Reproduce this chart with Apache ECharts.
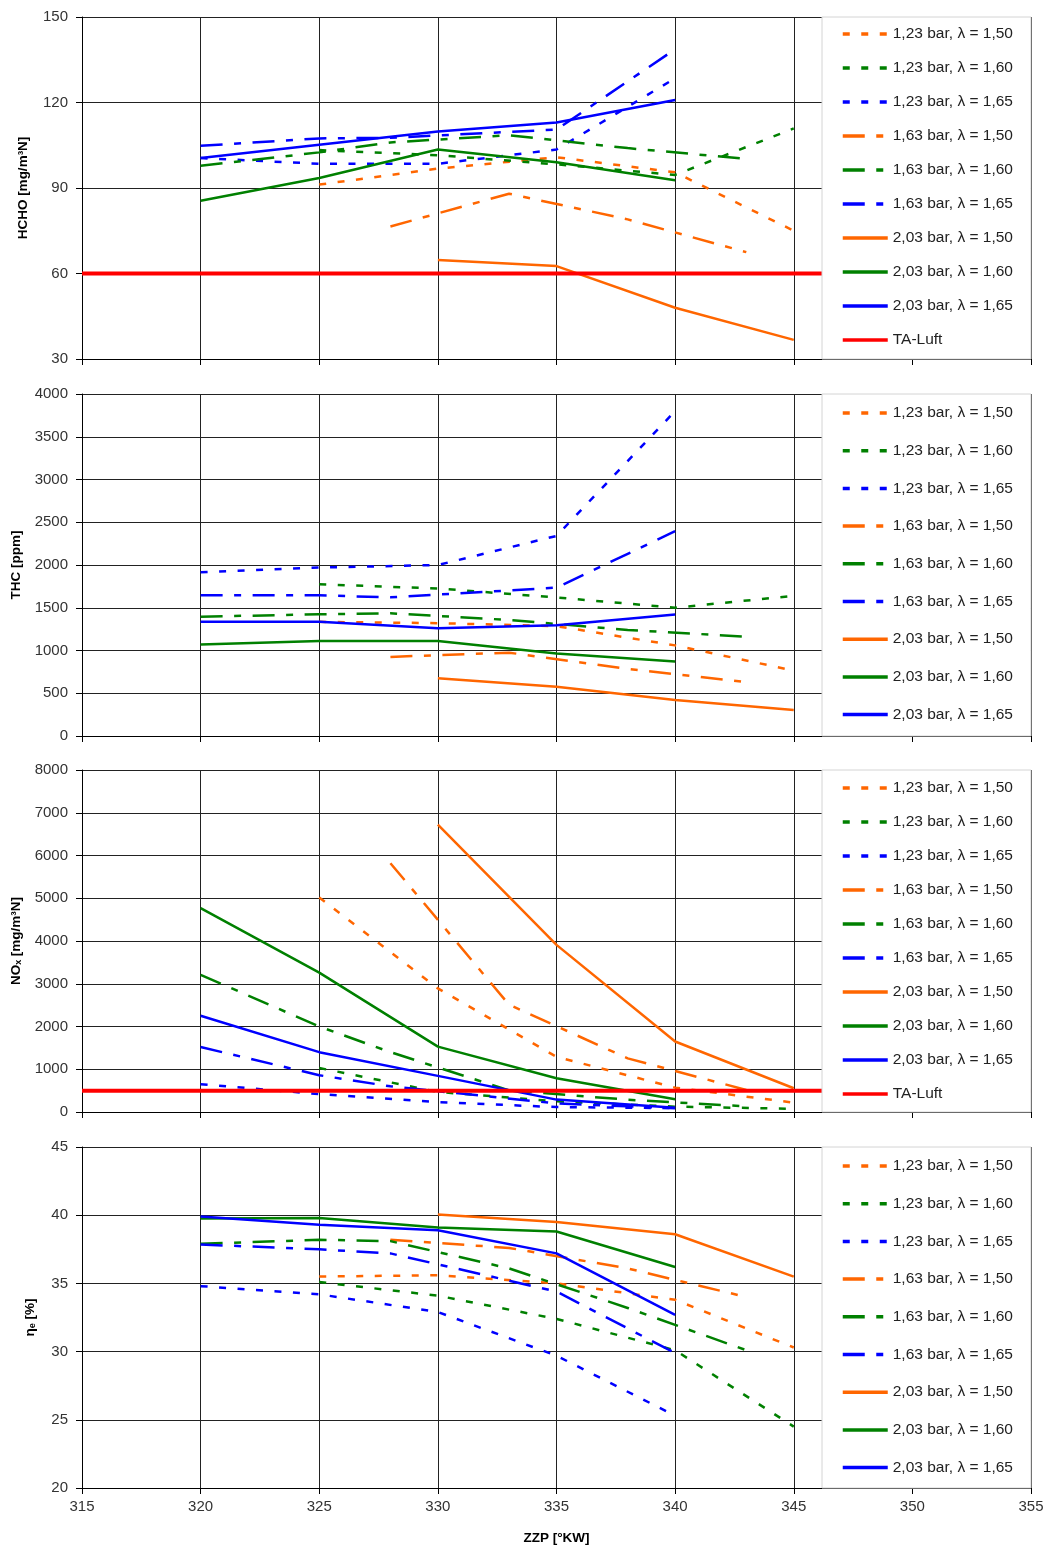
<!DOCTYPE html>
<html>
<head>
<meta charset="utf-8">
<title>ZZP Variation</title>
<script src="https://cdn.jsdelivr.net/npm/echarts@6/dist/echarts.min.js"></script>
<style>
  html, body { margin: 0; padding: 0; background: #fff; }
  #chart { width: 1047px; height: 1546px; }
</style>
</head>
<body>
<div id="chart"></div>
<script>
// ZZP [°KW] der Messpunkte je Reihe
var zzp123_150 = [325, 330, 335, 340, 345];
var zzp123_160 = [325, 330, 335, 340, 345];
var zzp123_165 = [320, 325, 330, 335, 340];
var zzp163_150 = [328, 333, 338, 343];
var zzp163_160 = [320, 325, 328, 333, 338, 343];
var zzp163_165 = [320, 325, 328, 335, 340];
var zzp203_150 = [330, 335, 340, 345];
var zzp203_160 = [320, 325, 330, 335, 340];
var zzp203_165 = [320, 325, 330, 335, 340];

// HCHO [mg/m3N]
var hcho123_150 = [91.2, 96.8, 100.8, 95.5, 75];
var hcho123_160 = [103.3, 101.5, 98.3, 94.6, 110.9];
var hcho123_165 = [100.5, 98.5, 98.5, 103.5, 128.5];
var hcho163_150 = [76.5, 88, 79, 67.5];
var hcho163_160 = [97.8, 102.5, 106, 108.5, 104, 100.2];
var hcho163_165 = [104.8, 107.4, 107.6, 110.5, 138.7];
var hcho203_150 = [64.7, 62.6, 48, 36.7];
var hcho203_160 = [85.5, 93.5, 103.5, 99, 92.7];
var hcho203_165 = [100.5, 105.2, 109.8, 113, 120.9];

// THC [ppm]
var thc123_150 = [1335, 1320, 1285, 1060, 765];
var thc123_160 = [1775, 1725, 1620, 1500, 1640];
var thc123_165 = [1915, 1970, 2000, 2340, 3800];
var thc163_150 = [925, 975, 785, 630];
var thc163_160 = [1396, 1423, 1435, 1357, 1240, 1162];
var thc163_165 = [1645, 1645, 1622, 1735, 2395];
var thc203_150 = [675, 575, 420, 305];
var thc203_160 = [1070, 1110, 1110, 965, 870];
var thc203_165 = [1335, 1335, 1260, 1295, 1420];

// NOx [mg/m3N]
var nox123_150 = [5020, 2890, 1290, 570, 220];
var nox123_160 = [1030, 470, 250, 125, 75];
var nox123_165 = [650, 420, 230, 115, 90];
var nox163_150 = [5820, 2510, 1255, 515];
var nox163_160 = [3210, 2000, 1400, 505, 288, 131];
var nox163_165 = [1520, 860, 600, 200, 90];
var nox203_150 = [6720, 3910, 1650, 555];
var nox203_160 = [4770, 3260, 1530, 790, 300];
var nox203_165 = [2250, 1400, 845, 290, 100];

// eta_e [%]
var eta123_150 = [35.5, 35.6, 35.0, 33.8, 30.3];
var eta123_160 = [35.1, 34.1, 32.4, 30.1, 24.5];
var eta123_165 = [34.8, 34.2, 32.9, 29.7, 25.3];
var eta163_150 = [38.2, 37.6, 36.1, 34.0];
var eta163_160 = [37.9, 38.2, 38.1, 36.1, 33.2, 30.1];
var eta163_165 = [37.85, 37.5, 37.2, 34.4, 29.9];
var eta203_150 = [40.05, 39.5, 38.6, 35.5];
var eta203_160 = [39.75, 39.8, 39.1, 38.8, 36.2];
var eta203_165 = [39.9, 39.3, 38.9, 37.2, 32.7];

// Grenzwerte TA-Luft
var taLuftZzp = [315, 355];
var taLuftHcho = [60, 60];
var taLuftNox = [500, 500];

// Achsen: [min, max, interval]
var xRange = [315, 355, 5];
var hchoRange = [30, 150, 30];
var thcRange = [0, 4000, 500];
var noxRange = [0, 8000, 1000];
var etaRange = [20, 45, 5];

var seriesNames = [
  '1,23 bar, λ = 1,50', '1,23 bar, λ = 1,60', '1,23 bar, λ = 1,65',
  '1,63 bar, λ = 1,50', '1,63 bar, λ = 1,60', '1,63 bar, λ = 1,65',
  '2,03 bar, λ = 1,50', '2,03 bar, λ = 1,60', '2,03 bar, λ = 1,65'
];
var taName = 'TA-Luft';

var FONT = 'Liberation Sans, Arial, sans-serif';
var ORANGE = '#FF6600', GREEN = '#008000', BLUE = '#0000FF';
var DOT = [7, 11.5];
var DASHDOT = [22, 11.5, 7, 11.5];

var styles = [
  { color: ORANGE, type: DOT }, { color: GREEN, type: DOT }, { color: BLUE, type: DOT },
  { color: ORANGE, type: DASHDOT }, { color: GREEN, type: DASHDOT }, { color: BLUE, type: DASHDOT },
  { color: ORANGE, type: 'solid' }, { color: GREEN, type: 'solid' }, { color: BLUE, type: 'solid' }
];
var zzpSets = [zzp123_150, zzp123_160, zzp123_165, zzp163_150, zzp163_160, zzp163_165,
               zzp203_150, zzp203_160, zzp203_165];

// legendPad: Innenabstand des Legendenkastens [oben, rechts, unten, links]
var panels = [
  { top: 17, height: 342, range: hchoRange, name: 'HCHO [mg/m³N]', nameGap: 52,
    values: [hcho123_150, hcho123_160, hcho123_165, hcho163_150, hcho163_160, hcho163_165, hcho203_150, hcho203_160, hcho203_165],
    ta: taLuftHcho, legendGap: 18, legendPad: [9, 18, 11, 19] },
  { top: 394, height: 342, range: thcRange, name: 'THC [ppm]', nameGap: 58,
    values: [thc123_150, thc123_160, thc123_165, thc163_150, thc163_160, thc163_165, thc203_150, thc203_160, thc203_165],
    ta: null, legendGap: 21.7, legendPad: [11, 18, 13.4, 19] },
  { top: 770, height: 342, range: noxRange, name: 'NOₓ [mg/m³N]', nameGap: 57,
    values: [nox123_150, nox123_160, nox123_165, nox163_150, nox163_160, nox163_165, nox203_150, nox203_160, nox203_165],
    ta: taLuftNox, legendGap: 18, legendPad: [10, 18, 10, 19] },
  { top: 1147, height: 341, range: etaRange, name: 'ηₑ [%]', nameGap: 45,
    values: [eta123_150, eta123_160, eta123_165, eta163_150, eta163_160, eta163_165, eta203_150, eta203_160, eta203_165],
    ta: null, legendGap: 21.7, legendPad: [11, 18, 12.4, 19] }
];

function pairs(xs, ys) {
  var out = [];
  for (var i = 0; i < xs.length; i++) out.push([xs[i], ys[i]]);
  return out;
}

var grids = [], xAxes = [], yAxes = [], series = [], legends = [];

panels.forEach(function (p, k) {
  var last = k === panels.length - 1;
  grids.push({ left: 82, right: 16, top: p.top, height: p.height });

  xAxes.push({
    type: 'value', gridIndex: k,
    min: xRange[0], max: xRange[1], interval: xRange[2],
    axisLine: { lineStyle: { color: '#000', width: 1 } },
    axisTick: { show: true, length: 6, lineStyle: { color: '#000' } },
    axisLabel: { show: last, color: '#333', fontSize: 15, fontFamily: FONT, margin: 11 },
    splitLine: { show: true, lineStyle: { color: '#222', width: 1 } },
    name: last ? 'ZZP [°KW]' : '',
    nameLocation: 'middle', nameGap: 43,
    nameTextStyle: { color: '#000', fontSize: 13.5, fontWeight: 'bold', fontFamily: FONT }
  });

  yAxes.push({
    type: 'value', gridIndex: k,
    min: p.range[0], max: p.range[1], interval: p.range[2],
    axisLine: { show: true, lineStyle: { color: '#000', width: 1 } },
    axisTick: { show: true, length: 6, lineStyle: { color: '#000' } },
    axisLabel: { color: '#333', fontSize: 15, fontFamily: FONT, margin: 14,
                 formatter: function (v) { return String(v); } },
    splitLine: { show: true, lineStyle: { color: '#222', width: 1 } },
    name: p.name, nameLocation: 'middle', nameGap: p.nameGap, nameRotate: 90,
    nameTextStyle: { color: '#000', fontSize: 13.5, fontWeight: 'bold', fontFamily: FONT }
  });

  for (var i = 0; i < seriesNames.length; i++) {
    series.push({
      name: seriesNames[i], type: 'line', xAxisIndex: k, yAxisIndex: k,
      symbol: 'none', silent: true, animation: false,
      data: pairs(zzpSets[i], p.values[i]),
      lineStyle: { color: styles[i].color, type: styles[i].type, width: 2.5 },
      itemStyle: { color: styles[i].color }
    });
  }
  var names = seriesNames.slice();
  if (p.ta) {
    series.push({
      name: taName, type: 'line', xAxisIndex: k, yAxisIndex: k,
      symbol: 'none', silent: true, animation: false,
      data: pairs(taLuftZzp, p.ta),
      lineStyle: { color: '#FF0000', width: 4 },
      itemStyle: { color: '#FF0000' }
    });
    names.push(taName);
  }

  // Legende mit weissem Kasten ueber der Zeichenflaeche
  legends.push({
    orient: 'vertical', left: 822, top: p.top, padding: p.legendPad,
    backgroundColor: '#fff', borderColor: '#d4d4d4', borderWidth: 1,
    itemWidth: 45, itemHeight: 14, itemGap: p.legendGap,
    selectedMode: false, data: names,
    itemStyle: { opacity: 0 },
    lineStyle: { width: 3.5 },
    textStyle: { color: '#222', fontSize: 15.5, fontFamily: FONT }
  });
});

var chart = echarts.init(document.getElementById('chart'));
chart.setOption({
  animation: false,
  backgroundColor: '#fff',
  grid: grids,
  xAxis: xAxes,
  yAxis: yAxes,
  legend: legends,
  series: series
});
</script>
</body>
</html>
